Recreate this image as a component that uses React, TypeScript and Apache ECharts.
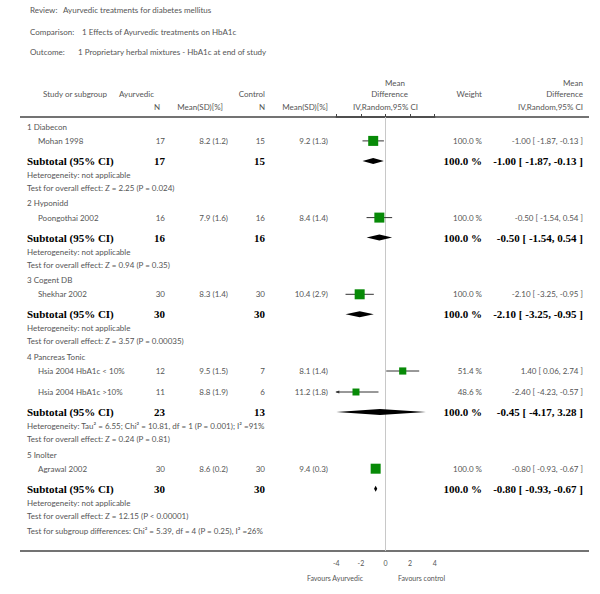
import React, { useEffect, useRef } from "react";
import * as echarts from "echarts";

// ---------- data ----------
const reviewTitle = "Ayurvedic treatments for diabetes mellitus";
const comparisonTitle = "1 Effects of Ayurvedic treatments on HbA1c";
const outcomeTitle = "1 Proprietary herbal mixtures - HbA1c at end of study";

const groupNames = ["1 Diabecon", "2 Hyponidd", "3 Cogent DB", "4 Pancreas Tonic", "5 Inolter"];

const studyNames = [
  "Mohan 1998",
  "Poongothai 2002",
  "Shekhar 2002",
  "Hsia 2004 HbA1c < 10%",
  "Hsia 2004 HbA1c >10%",
  "Agrawal 2002",
];
const studyGroup = [0, 1, 2, 3, 3, 4];
const ayurN = [17, 16, 30, 12, 11, 30];
const ayurMean = [8.2, 7.9, 8.3, 9.5, 8.8, 8.6];
const ayurSD = [1.2, 1.6, 1.4, 1.5, 1.9, 0.2];
const ctrlN = [15, 16, 30, 7, 6, 30];
const ctrlMean = [9.2, 8.4, 10.4, 8.1, 11.2, 9.4];
const ctrlSD = [1.3, 1.4, 2.9, 1.4, 1.8, 0.3];
const studyWeight = [100.0, 100.0, 100.0, 51.4, 48.6, 100.0];
const studyMD = [-1.0, -0.5, -2.1, 1.4, -2.4, -0.8];
const studyLo = [-1.87, -1.54, -3.25, 0.06, -4.23, -0.93];
const studyHi = [-0.13, 0.54, -0.95, 2.74, -0.57, -0.67];

const subAyurN = [17, 16, 30, 23, 30];
const subCtrlN = [15, 16, 30, 13, 30];
const subWeight = [100.0, 100.0, 100.0, 100.0, 100.0];
const subMD = [-1.0, -0.5, -2.1, -0.45, -0.8];
const subLo = [-1.87, -1.54, -3.25, -4.17, -0.93];
const subHi = [-0.13, 0.54, -0.95, 3.28, -0.67];
const heterogeneity = [
  "Heterogeneity: not applicable",
  "Heterogeneity: not applicable",
  "Heterogeneity: not applicable",
  "Heterogeneity: Tau\u00b2 = 6.55; Chi\u00b2 = 10.81, df = 1 (P = 0.001); I\u00b2 =91%",
  "Heterogeneity: not applicable",
];
const overallEffect = [
  "Test for overall effect: Z = 2.25 (P = 0.024)",
  "Test for overall effect: Z = 0.94 (P = 0.35)",
  "Test for overall effect: Z = 3.57 (P = 0.00035)",
  "Test for overall effect: Z = 0.24 (P = 0.81)",
  "Test for overall effect: Z = 12.15 (P < 0.00001)",
];
const subgroupDiff = "Test for subgroup differences: Chi\u00b2 = 5.39, df = 4 (P = 0.25), I\u00b2 =26%";

const axisMin = -4;
const axisMax = 4;
const axisInterval = 2;
const favoursLeft = "Favours Ayurvedic";
const favoursRight = "Favours control";

// ---------- layout ----------
const W = 600;
const H = 594;
const GRID_TOP = 117;
const GRID_BOTTOM_Y = 551;
const ZERO_X = 385.5;
const UNIT = 12.3;
const GRID_LEFT = ZERO_X + axisMin * UNIT;
const GRID_RIGHT_X = ZERO_X + axisMax * UNIT;
const PLOT_H = GRID_BOTTOM_Y - GRID_TOP;

const SMALL = { fontSize: 8, fontFamily: "Lato", fill: "#555" };
const TINY = { fontSize: 7, fontFamily: "Lato", fill: "#555" };
const BOLD = { fontSize: 11, fontFamily: "Liberation Serif", fontWeight: "bold", fill: "#000" };

type Row = { type: string; g?: number; i?: number; y?: number };

function buildRows(): Row[] {
  const rows: Row[] = [];
  groupNames.forEach((_, g) => {
    rows.push({ type: "group", g });
    studyNames.forEach((__, i) => {
      if (studyGroup[i] === g) rows.push({ type: "study", g, i });
    });
    rows.push({ type: "subtotal", g });
    rows.push({ type: "het", g });
    rows.push({ type: "test", g });
  });
  rows.push({ type: "overall" });
  let y = 126.7;
  rows.forEach((r, k) => {
    if (k > 0) {
      const p = rows[k - 1].type;
      const c = r.type;
      let step = 14;
      if (p === "study" && c === "study") step = 21;
      else if (p === "study" && c === "subtotal") step = 20;
      else if (p === "het" && c === "test") step = 13;
      else if (p === "test" && c === "group") step = 15.5;
      else if (p === "group" && c === "study") step = 14.2;
      else if (p === "test" && c === "overall") step = 15;
      y += step;
    }
    r.y = y;
  });
  return rows;
}

const fmt2 = (v: number) => v.toFixed(2);
const ciText = (m: number, lo: number, hi: number) => `${fmt2(m)} [ ${fmt2(lo)}, ${fmt2(hi)} ]`;

function txt(text: string, x: number, y: number, align: string, st: any) {
  return {
    type: "text",
    x,
    y,
    silent: true,
    style: { text, textAlign: align, textVerticalAlign: "middle", ...st },
  };
}

export default function App() {
  const ref = useRef<HTMLDivElement>(null);

  useEffect(() => {
    if (!ref.current) return;
    const chart = echarts.init(ref.current, undefined, { renderer: "svg" });
    const rows = buildRows();

    const g: any[] = [];
    // top meta
    g.push(txt("Review:", 30, 10, "left", SMALL));
    g.push(txt(reviewTitle, 63, 10, "left", SMALL));
    g.push(txt("Comparison:", 30, 32, "left", SMALL));
    g.push(txt(comparisonTitle, 82, 32, "left", SMALL));
    g.push(txt("Outcome:", 30, 52, "left", SMALL));
    g.push(txt(outcomeTitle, 78, 52, "left", SMALL));

    // column headers
    g.push(txt("Study or subgroup", 43, 94, "left", SMALL));
    g.push(txt("Ayurvedic", 154, 94, "right", SMALL));
    g.push(txt("N", 160, 107, "right", SMALL));
    g.push(txt("Mean(SD)[%]", 223, 107, "right", SMALL));
    g.push(txt("Control", 265, 94, "right", SMALL));
    g.push(txt("N", 265, 107, "right", SMALL));
    g.push(txt("Mean(SD)[%]", 328, 107, "right", SMALL));
    g.push(txt("Mean", 405, 83, "right", SMALL));
    g.push(txt("Difference", 408, 94, "right", SMALL));
    g.push(txt("IV,Random,95% CI", 418, 107, "right", SMALL));
    g.push(txt("Weight", 482, 94, "right", SMALL));
    g.push(txt("Mean", 583, 83, "right", SMALL));
    g.push(txt("Difference", 583, 94, "right", SMALL));
    g.push(txt("IV,Random,95% CI", 583, 107, "right", SMALL));

    // rules
    g.push({ type: "line", silent: true, shape: { x1: 20, y1: GRID_TOP, x2: 589, y2: GRID_TOP }, style: { stroke: "#444", lineWidth: 1.5 } });
    g.push({ type: "line", silent: true, shape: { x1: 20, y1: GRID_BOTTOM_Y, x2: 589, y2: GRID_BOTTOM_Y }, style: { stroke: "#444", lineWidth: 1.5 } });

    const studyData: any[] = [];
    const diamondData: any[] = [];

    rows.forEach((r) => {
      const y = r.y as number;
      if (r.type === "group") g.push(txt(groupNames[r.g!], 27, y, "left", SMALL));
      else if (r.type === "study") {
        const i = r.i!;
        g.push(txt(studyNames[i], 38, y, "left", SMALL));
        g.push(txt(String(ayurN[i]), 165, y, "right", SMALL));
        g.push(txt(`${ayurMean[i].toFixed(1)} (${ayurSD[i].toFixed(1)})`, 228, y, "right", SMALL));
        g.push(txt(String(ctrlN[i]), 265, y, "right", SMALL));
        g.push(txt(`${ctrlMean[i].toFixed(1)} (${ctrlSD[i].toFixed(1)})`, 328, y, "right", SMALL));
        g.push(txt(`${studyWeight[i].toFixed(1)} %`, 482, y, "right", SMALL));
        g.push(txt(ciText(studyMD[i], studyLo[i], studyHi[i]), 583, y, "right", SMALL));
        studyData.push([studyMD[i], y - GRID_TOP, studyLo[i], studyHi[i], studyWeight[i]]);
      } else if (r.type === "subtotal") {
        const k = r.g!;
        g.push(txt("Subtotal (95% CI)", 27, y, "left", BOLD));
        g.push(txt(String(subAyurN[k]), 165, y, "right", BOLD));
        g.push(txt(String(subCtrlN[k]), 265, y, "right", BOLD));
        g.push(txt(`${subWeight[k].toFixed(1)} %`, 482, y, "right", BOLD));
        g.push(txt(ciText(subMD[k], subLo[k], subHi[k]), 583, y, "right", BOLD));
        diamondData.push([subMD[k], y - GRID_TOP, subLo[k], subHi[k]]);
      } else if (r.type === "het") g.push(txt(heterogeneity[r.g!], 27, y, "left", SMALL));
      else if (r.type === "test") g.push(txt(overallEffect[r.g!], 27, y, "left", SMALL));
      else if (r.type === "overall") g.push(txt(subgroupDiff, 27, y, "left", SMALL));
    });

    // favours labels
    g.push(txt(favoursLeft, 363, 578, "right", TINY));
    g.push(txt(favoursRight, 398, 578, "left", TINY));

    const clampX = (v: number) => Math.max(axisMin, Math.min(axisMax, v));

    const option: any = {
      animation: false,
      grid: { left: GRID_LEFT, right: W - GRID_RIGHT_X, top: GRID_TOP, bottom: H - GRID_BOTTOM_Y, containLabel: false },
      xAxis: {
        type: "value",
        min: axisMin,
        max: axisMax,
        interval: axisInterval,
        axisLine: { show: true, lineStyle: { color: "#444", width: 1.5 } },
        axisTick: { show: true, inside: true, length: 3, lineStyle: { color: "#444" } },
        axisLabel: { fontSize: 7, fontFamily: "Lato", color: "#555", margin: 8 },
        splitLine: { show: false },
      },
      yAxis: { type: "value", min: 0, max: PLOT_H, inverse: true, show: false },
      graphic: g,
      series: [
        {
          type: "line",
          data: [[0, 0], [0, PLOT_H]],
          symbol: "none",
          silent: true,
          lineStyle: { color: "#c8c8c8", width: 1 },
          z: 1,
        },
        {
          type: "custom",
          data: studyData,
          clip: false,
          z: 3,
          renderItem: (_p: any, api: any) => {
            const md = api.value(0), y = api.value(1), lo = api.value(2), hi = api.value(3), w = api.value(4);
            const pL = api.coord([clampX(lo), y]);
            const pR = api.coord([clampX(hi), y]);
            const pM = api.coord([md, y]);
            const s = 10 * Math.sqrt(w / 100);
            const children: any[] = [
              { type: "line", shape: { x1: pL[0], y1: pL[1], x2: pR[0], y2: pR[1] }, style: { stroke: "#333", lineWidth: 1 } },
              { type: "rect", shape: { x: pM[0] - s / 2, y: pM[1] - s / 2, width: s, height: s }, style: { fill: "#078a07" } },
            ];
            if (lo < axisMin) {
              children.push({ type: "polygon", shape: { points: [[pL[0] - 1, pL[1]], [pL[0] + 3, pL[1] - 1.5], [pL[0] + 3, pL[1] + 1.5]] }, style: { fill: "#333" } });
            }
            if (hi > axisMax) {
              children.push({ type: "polygon", shape: { points: [[pR[0] + 1, pR[1]], [pR[0] - 3, pR[1] - 1.5], [pR[0] - 3, pR[1] + 1.5]] }, style: { fill: "#333" } });
            }
            return { type: "group", children };
          },
        },
        {
          type: "custom",
          data: diamondData,
          clip: false,
          z: 3,
          renderItem: (_p: any, api: any) => {
            const md = api.value(0), y = api.value(1), lo = api.value(2), hi = api.value(3);
            const pL = api.coord([clampX(lo), y]);
            const pR = api.coord([clampX(hi), y]);
            const pM = api.coord([md, y]);
            return {
              type: "polygon",
              shape: { points: [[pL[0], pL[1]], [pM[0], pM[1] - 3], [pR[0], pR[1]], [pM[0], pM[1] + 3]] },
              style: { fill: "#000" },
            };
          },
        },
      ],
    };
    chart.setOption(option);
    return () => chart.dispose();
  }, []);

  return <div ref={ref} style={{ position: "fixed", left: 0, top: 0, width: W, height: H, background: "#fff" }} />;
}
